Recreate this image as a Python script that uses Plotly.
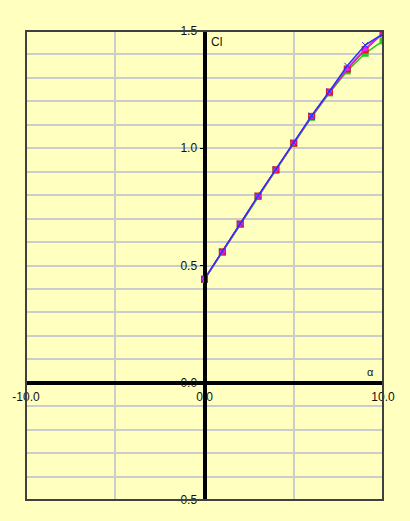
import plotly.graph_objects as go

alpha = [0, 1, 2, 3, 4, 5, 6, 7, 8, 9, 10]
cl_green = [0.440, 0.557, 0.676, 0.795, 0.907, 1.020, 1.132, 1.236, 1.330, 1.405, 1.458]
cl_red = [0.442, 0.558, 0.677, 0.796, 0.908, 1.022, 1.136, 1.240, 1.338, 1.420, 1.490]
cl_magenta = [0.442, 0.558, 0.677, 0.796, 0.909, 1.023, 1.137, 1.241, 1.341, 1.424, 1.492]
cl_blue = [0.443, 0.559, 0.678, 0.797, 0.910, 1.024, 1.139, 1.243, 1.352, 1.440, 1.488]

x_tickvals = [-10, 0, 10]
x_ticktext = ["-10.0", "0.0", "10.0"]
y_tickvals = [-0.5, 0.0, 0.5, 1.0, 1.5]
y_ticktext = ["-0.5", "0.0", "0.5", "1.0", "1.5"]

BG = "#FFFFC0"
GRID = "#CCCCCC"
FONT = "Liberation Sans, Arial, sans-serif"

fig = go.Figure()
series = [
    (cl_green, "#22CC22", dict(symbol="square", size=7)),
    (cl_red, "#EE1111", dict(symbol="square", size=7)),
    (cl_magenta, "#EE22EE", dict(symbol="square", size=5)),
    (cl_blue, "#2233FF", dict(symbol="x-thin-open", size=6, line=dict(width=1, color="#2233FF"))),
]
for ys, col, mk in series:
    m = dict(color=col, **mk)
    fig.add_trace(go.Scatter(x=alpha, y=ys, mode="lines+markers",
                             line=dict(color=col, width=1.5), marker=m,
                             showlegend=False, hoverinfo="skip"))

fig.update_layout(
    width=410, height=521,
    paper_bgcolor=BG, plot_bgcolor=BG,
    margin=dict(l=26, r=27, t=31, b=21),
    font=dict(family=FONT, size=12, color="#111111"),
    xaxis=dict(range=[-10, 10], anchor="free", position=0.25,
               showgrid=True, gridcolor=GRID, gridwidth=1.5,
               tickmode="array", tickvals=x_tickvals, ticktext=x_ticktext,
               ticks="outside", ticklen=2, tickwidth=1, tickcolor="#000000",
               showline=True, linecolor="#000000", linewidth=2.5,
               zeroline=True, zerolinecolor="#000000", zerolinewidth=3,
               automargin=False, fixedrange=True),
    yaxis=dict(range=[-0.5, 1.5], anchor="free", position=0.5,
               showgrid=True, gridcolor=GRID, gridwidth=1.5,
               tickmode="array", tickvals=y_tickvals, ticktext=y_ticktext,
               ticks="outside", ticklen=4, tickwidth=1, tickcolor="#000000",
               showline=True, linecolor="#000000", linewidth=3,
               zeroline=True, zerolinecolor="#000000", zerolinewidth=2.5,
               automargin=False, fixedrange=True),
    shapes=[dict(type="rect", xref="paper", yref="paper", x0=0, x1=1, y0=0, y1=1,
                 line=dict(color="#404040", width=2), layer="above")],
    annotations=[
        dict(text="Cl", x=0, y=1.5, xref="x", yref="y", xanchor="left", yanchor="top",
             xshift=4, yshift=-2, showarrow=False, font=dict(size=12, color="#111111")),
        dict(text="α", x=10, y=0, xref="x", yref="y", xanchor="right", yanchor="bottom",
             xshift=-7, yshift=3, showarrow=False, font=dict(size=11, color="#111111")),
    ],
)

fig.update_yaxes(minor=dict(showgrid=True, gridcolor=GRID, gridwidth=1.5,
                            tickmode="array", tickvals=[i / 10 for i in range(-5, 16)], ticks=""))
fig.update_xaxes(minor=dict(showgrid=True, gridcolor=GRID, gridwidth=1.5,
                            tickmode="array", tickvals=[-5, 5], ticks=""))

fig.write_html("out.html", config={"displayModeBar": False},
               post_script="document.body.style.margin='0';document.body.style.background='#FFFFC0';")
